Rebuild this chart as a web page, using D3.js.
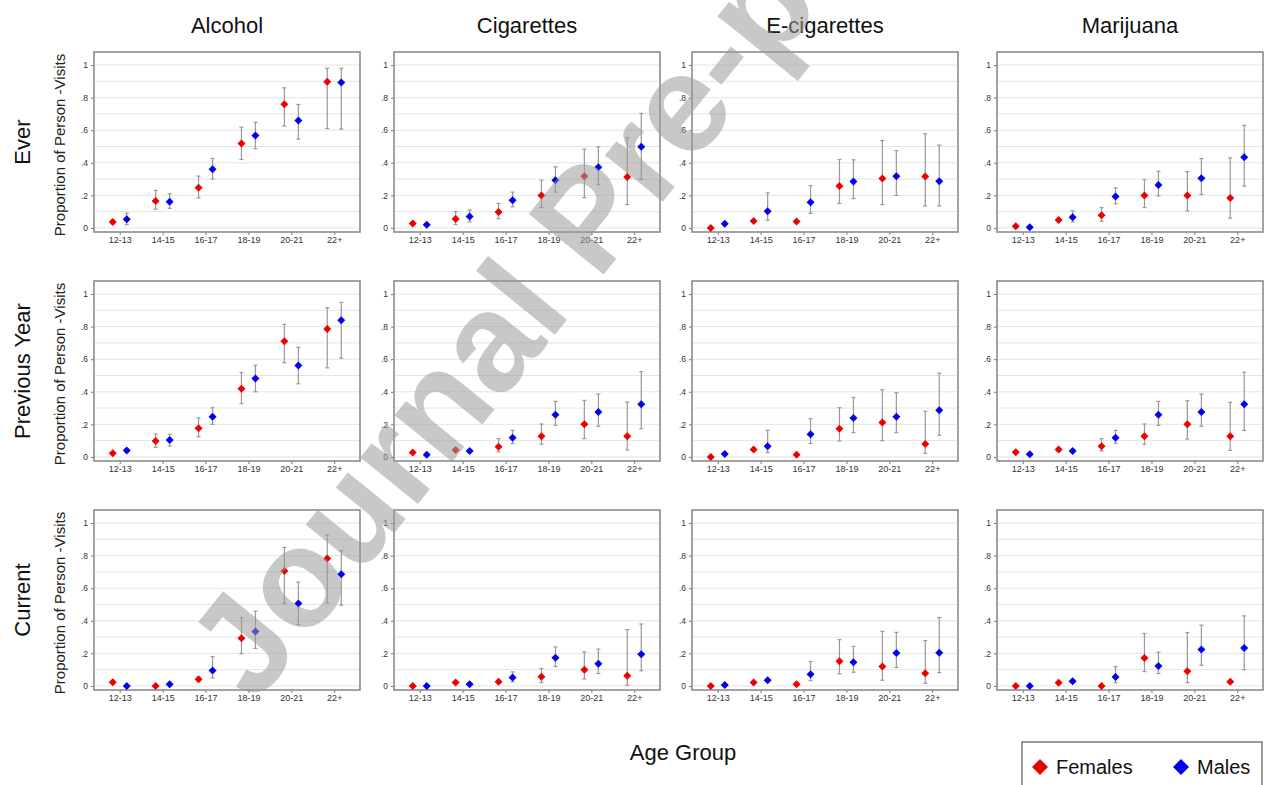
<!DOCTYPE html>
<html>
<head>
<meta charset="utf-8">
<script src="https://cdn.jsdelivr.net/npm/d3@7"></script>
<style>
  html, body { margin: 0; padding: 0; background: #fff; }
  svg { display: block; font-family: "Liberation Sans", Arial, sans-serif; }
</style>
</head>
<body>
<svg id="chart" width="1267" height="785"></svg>
<script>
// Age groups on the x axis, substances across the columns, measures down the rows
const ageGroups = ["12-13", "14-15", "16-17", "18-19", "20-21", "22+"];
const substances = ["Alcohol", "Cigarettes", "E-cigarettes", "Marijuana"];
const measures = ["Ever", "Previous Year", "Current"];
const yTicks = [0, 0.2, 0.4, 0.6, 0.8, 1];
const yTickLabels = ["0", ".2", ".4", ".6", ".8", "1"];
const sexes = ["Females", "Males"];

// Each entry: [estimate, lower CI, upper CI] per age group; one list per substance
const everFemales = [
  [[.037,.025,.05],[.166,.115,.23],[.246,.184,.318],[.518,.42,.619],[.76,.625,.86],[.898,.61,.98]],
  [[.027,.02,.035],[.055,.02,.10],[.098,.057,.15],[.199,.125,.293],[.318,.186,.484],[.313,.143,.553]],
  [[.0,.0,.0],[.043,.035,.05],[.039,.03,.045],[.258,.15,.42],[.303,.143,.537],[.316,.135,.578]],
  [[.01,.005,.015],[.049,.04,.058],[.078,.041,.125],[.199,.125,.297],[.199,.105,.346],[.183,.06,.43]]
];
const everMales = [
  [[.053,.02,.09],[.16,.12,.21],[.36,.30,.426],[.568,.486,.648],[.66,.545,.758],[.893,.607,.98]],
  [[.02,.015,.025],[.07,.037,.11],[.17,.13,.22],[.293,.22,.375],[.373,.266,.498],[.498,.297,.703]],
  [[.025,.02,.03],[.102,.047,.215],[.158,.09,.26],[.285,.18,.418],[.318,.199,.475],[.287,.135,.508]],
  [[.004,.0,.01],[.066,.037,.105],[.193,.148,.246],[.264,.197,.348],[.305,.205,.426],[.434,.256,.63]]
];
const prevYearFemales = [
  [[.022,.015,.03],[.098,.059,.141],[.176,.124,.239],[.418,.327,.518],[.71,.578,.814],[.786,.547,.916]],
  [[.027,.02,.035],[.043,.035,.05],[.063,.031,.112],[.127,.078,.202],[.2,.112,.347],[.127,.043,.337]],
  [[.0,.0,.0],[.045,.035,.055],[.014,.008,.02],[.173,.098,.302],[.212,.10,.412],[.08,.022,.28]],
  [[.029,.02,.035],[.045,.035,.055],[.065,.037,.112],[.127,.078,.202],[.2,.11,.345],[.127,.04,.335]]
];
const prevYearMales = [
  [[.039,.03,.05],[.104,.067,.139],[.247,.20,.302],[.482,.40,.563],[.561,.449,.673],[.839,.606,.949]],
  [[.014,.01,.02],[.037,.03,.045],[.118,.082,.163],[.259,.194,.341],[.276,.188,.386],[.324,.173,.524]],
  [[.018,.012,.025],[.065,.027,.163],[.139,.082,.235],[.239,.149,.365],[.247,.149,.394],[.286,.133,.514]],
  [[.016,.01,.022],[.037,.03,.045],[.118,.084,.163],[.259,.194,.341],[.276,.188,.386],[.323,.163,.52]]
];
const currentFemales = [
  [[.023,.015,.03],[.0,.0,.0],[.041,.03,.05],[.293,.197,.42],[.705,.506,.85],[.783,.51,.928]],
  [[.0,.0,.0],[.021,.015,.027],[.025,.018,.032],[.056,.021,.107],[.099,.043,.208],[.062,.004,.346]],
  [[.0,.0,.0],[.021,.015,.027],[.01,.005,.015],[.152,.074,.284],[.119,.035,.335],[.078,.016,.278]],
  [[.0,.0,.0],[.02,.015,.025],[.0,.0,.0],[.172,.088,.322],[.09,.02,.328],[.025,.02,.03]]
];
const currentMales = [
  [[.0,.0,.0],[.01,.005,.015],[.094,.049,.18],[.334,.23,.459],[.506,.377,.637],[.686,.496,.83]],
  [[.0,.0,.0],[.01,.005,.015],[.051,.025,.086],[.173,.119,.239],[.136,.076,.226],[.195,.093,.38]],
  [[.006,.003,.01],[.035,.028,.042],[.072,.033,.15],[.146,.084,.243],[.202,.113,.329],[.203,.082,.42]],
  [[.0,.0,.0],[.029,.02,.035],[.055,.02,.119],[.123,.076,.207],[.223,.127,.373],[.233,.10,.43]]
];

const seriesByMeasure = [
  [everFemales, everMales],
  [prevYearFemales, prevYearMales],
  [currentFemales, currentMales]
];
const sexColors = ["#ee0000", "#0000ee"];

// Layout of the 4 x 3 grid of panels
const panelLefts = [94, 394, 692, 997];
const panelTops = [52, 281, 510];
const panelW = 266, panelH = 180;
const dodge = 7;

const svg = d3.select("#chart");

const diamond = r => `M0,${-r}L${r},0L0,${r}L${-r},0Z`;

const x = d3.scalePoint().domain(ageGroups).padding(0.6);
const yBase = d3.scaleLinear().domain([-0.025, 1.08]);
const gridVals = d3.range(0, 11).map(i => i / 10);

measures.forEach((measure, ri) => {
  substances.forEach((sub, ci) => {
    const left = panelLefts[ci], top = panelTops[ri];
    const xs = x.copy().range([left, left + panelW]);
    const ys = yBase.copy().range([top + panelH, top]);
    const g = svg.append("g");

    // gridlines every 0.1
    g.selectAll("line.grid").data(gridVals).join("line")
      .attr("x1", left).attr("x2", left + panelW)
      .attr("y1", d => ys(d)).attr("y2", d => ys(d))
      .attr("stroke", "#e4e4e4").attr("stroke-width", 1);

    // y axis
    const yAxis = d3.axisLeft(ys).tickValues(yTicks)
      .tickFormat((d, i) => yTickLabels[i]).tickSize(3).tickPadding(3);
    const ya = g.append("g").attr("transform", `translate(${left},0)`).call(yAxis);
    ya.select(".domain").remove();
    ya.selectAll("line").attr("stroke", "#777");
    ya.selectAll("text").attr("font-size", 8.5).attr("fill", "#333")
      .attr("font-family", "Liberation Sans, Arial, sans-serif");

    // x axis
    const xAxis = d3.axisBottom(xs).tickSize(3).tickPadding(2);
    const xa = g.append("g").attr("transform", `translate(0,${top + panelH})`).call(xAxis);
    xa.select(".domain").remove();
    xa.selectAll("line").attr("stroke", "#777");
    xa.selectAll("text").attr("font-size", 9).attr("fill", "#333")
      .attr("font-family", "Liberation Sans, Arial, sans-serif");

    // frame
    g.append("rect").attr("x", left).attr("y", top)
      .attr("width", panelW).attr("height", panelH)
      .attr("fill", "none").attr("stroke", "#8c8c8c").attr("stroke-width", 1.6);

    // error bars and points for each sex
    seriesByMeasure[ri].forEach((series, si) => {
      const vals = series[ci];
      const off = si === 0 ? -dodge : dodge;
      const bars = g.append("g");
      vals.forEach((v, ai) => {
        const cx = xs(ageGroups[ai]) + off;
        if (v[2] - v[1] > 0.001) {
          bars.append("line").attr("x1", cx).attr("x2", cx)
            .attr("y1", ys(v[1])).attr("y2", ys(v[2]))
            .attr("stroke", "#999").attr("stroke-width", 1.2);
          [v[1], v[2]].forEach(b => bars.append("line")
            .attr("x1", cx - 2).attr("x2", cx + 2)
            .attr("y1", ys(b)).attr("y2", ys(b))
            .attr("stroke", "#999").attr("stroke-width", 1.2));
        }
      });
      g.append("g").selectAll("path").data(vals).join("path")
        .attr("d", diamond(4))
        .attr("transform", (v, ai) => `translate(${xs(ageGroups[ai]) + off},${ys(v[0])})`)
        .attr("fill", sexColors[si]);
    });
  });
});

// column titles
substances.forEach((s, ci) => {
  svg.append("text").attr("x", panelLefts[ci] + panelW / 2).attr("y", 33)
    .attr("text-anchor", "middle").attr("font-size", 22).attr("fill", "#111").text(s);
});

// row titles and y-axis labels
measures.forEach((m, ri) => {
  const cy = panelTops[ri] + panelH / 2;
  svg.append("text").attr("transform", `translate(30,${cy}) rotate(-90)`)
    .attr("text-anchor", "middle").attr("font-size", 22).attr("fill", "#111").text(m);
  svg.append("text").attr("transform", `translate(65,${cy + 3}) rotate(-90)`)
    .attr("text-anchor", "middle").attr("font-size", 15).attr("fill", "#222")
    .text("Proportion of Person -Visits");
});

// x-axis title
svg.append("text").attr("x", 683).attr("y", 760).attr("text-anchor", "middle")
  .attr("font-size", 22).attr("fill", "#111").text("Age Group");

// legend
const lg = svg.append("g");
lg.append("rect").attr("x", 1022).attr("y", 742).attr("width", 240).attr("height", 50)
  .attr("fill", "#fff").attr("stroke", "#555").attr("stroke-width", 1.2);
const legendX = [1040, 1181];
sexes.forEach((s, i) => {
  lg.append("path").attr("d", diamond(8))
    .attr("transform", `translate(${legendX[i]},767)`).attr("fill", sexColors[i]);
  lg.append("text").attr("x", legendX[i] + 16).attr("y", 774)
    .attr("font-size", 20).attr("fill", "#111").text(s);
});

// journal watermark across the figure
svg.append("text").attr("transform", "translate(255,705) rotate(-51)")
  .attr("font-size", 140).attr("font-weight", "bold")
  .attr("fill", "#9a9a9a").attr("fill-opacity", 0.55)
  .text("Journal Pre-proof");
</script>
</body>
</html>
